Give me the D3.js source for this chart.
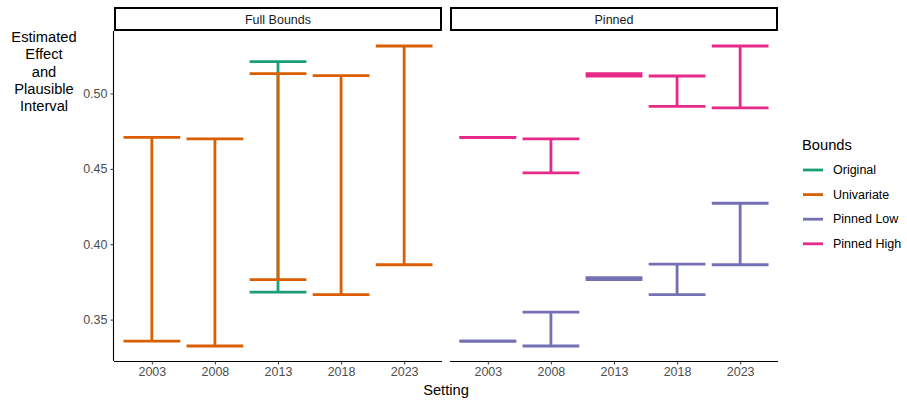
<!DOCTYPE html>
<html><head><meta charset="utf-8">
<script src="https://cdn.jsdelivr.net/npm/d3@7"></script>
<style>body{margin:0;background:#fff;} svg{font-family:"Liberation Sans",Arial,sans-serif;}</style>
</head><body>
<svg id="chart" width="907" height="402"></svg>
<script>
const settings = ["2003","2008","2013","2018","2023"];
const panels = ["Full Bounds","Pinned"];
const boundsLevels = ["Original","Univariate","Pinned Low","Pinned High"];
const boundsColors = ["#1B9E77","#D95F02","#7570B3","#E7298A"];
const yTicks = [0.35,0.40,0.45,0.50];

// Full Bounds panel
const origSettings = ["2013"];
const origLower = [0.3682];
const origUpper = [0.5212];
const uniLower = [0.3358,0.3325,0.3765,0.3666,0.3864];
const uniUpper = [0.4709,0.4699,0.5132,0.5119,0.5315];
// Pinned panel
const pinLowLower = [0.3358,0.3325,0.3765,0.3666,0.3864];
const pinLowUpper = [0.3358,0.3550,0.3778,0.3868,0.4272];
const pinHighLower = [0.4709,0.4474,0.5116,0.4914,0.4904];
const pinHighUpper = [0.4709,0.4699,0.5132,0.5116,0.5315];

(function(){
const rows = [];
origSettings.forEach((s,i)=>rows.push({panel:"Full Bounds",bounds:"Original",setting:s,lo:origLower[i],hi:origUpper[i]}));
settings.forEach((s,i)=>rows.push({panel:"Full Bounds",bounds:"Univariate",setting:s,lo:uniLower[i],hi:uniUpper[i]}));
settings.forEach((s,i)=>rows.push({panel:"Pinned",bounds:"Pinned Low",setting:s,lo:pinLowLower[i],hi:pinLowUpper[i]}));
settings.forEach((s,i)=>rows.push({panel:"Pinned",bounds:"Pinned High",setting:s,lo:pinHighLower[i],hi:pinHighUpper[i]}));

const svg = d3.select("#chart");
const color = d3.scaleOrdinal().domain(boundsLevels).range(boundsColors);

const plotTop = 31, plotBottom = 361;
const panelX = {"Full Bounds":[114,442],"Pinned":[450,778]};
const allVals = rows.flatMap(r=>[r.lo,r.hi]);
const ymin = d3.min(allVals), ymax = d3.max(allVals);
const pad = (ymax-ymin)*0.05;
const y = d3.scaleLinear().domain([ymin-pad, ymax+pad]).range([plotBottom, plotTop]);

const lw = 2.8;
const txtCol = "#4d4d4d";
const small = 12.5, big = 14.7;

panels.forEach((p,pi)=>{
  const [x0,x1] = panelX[p];
  const unit = (x1-x0)/(settings.length - 1 + 1.2);
  const x = d3.scalePoint().domain(settings).range([x0+0.6*unit, x1-0.6*unit]);
  const hw = 0.45*unit;

  // strip
  svg.append("rect").attr("x",x0+1).attr("y",8).attr("width",x1-x0-2).attr("height",plotTop-8-1)
    .attr("fill","#fff").attr("stroke","#000").attr("stroke-width",2);
  svg.append("text").attr("x",(x0+x1)/2).attr("y",19.5).attr("text-anchor","middle")
    .attr("dominant-baseline","central").attr("font-size",small).attr("fill","#1a1a1a").text(p);

  const g = svg.append("g");
  rows.filter(r=>r.panel===p).forEach(r=>{
    const cx = x(r.setting), c = color(r.bounds);
    g.append("line").attr("x1",cx).attr("x2",cx).attr("y1",y(r.lo)).attr("y2",y(r.hi))
      .attr("stroke",c).attr("stroke-width",lw);
    [r.lo,r.hi].forEach(v=>{
      g.append("line").attr("x1",cx-hw).attr("x2",cx+hw).attr("y1",y(v)).attr("y2",y(v))
        .attr("stroke",c).attr("stroke-width",lw);
    });
  });

  // x axis
  const xa = svg.append("g").attr("transform",`translate(0,${plotBottom})`)
    .call(d3.axisBottom(x).tickSize(3.5).tickPadding(3));
  xa.attr("font-size",small).attr("font-family",null);
  xa.select(".domain").attr("d",`M${x0},0.5H${x1}`).attr("stroke","#000").attr("stroke-width",1.1);
  xa.selectAll(".tick line").attr("stroke","#333");
  xa.selectAll(".tick text").attr("fill",txtCol);

  if(pi===0){
    const ya = svg.append("g").attr("transform",`translate(${x0},0)`)
      .call(d3.axisLeft(y).tickValues(yTicks).tickFormat(d3.format(".2f")).tickSize(3.5).tickPadding(3));
    ya.attr("font-size",small).attr("font-family",null);
    ya.select(".domain").attr("d",`M-0.5,${plotTop}V${plotBottom}`).attr("stroke","#000").attr("stroke-width",1.1);
    ya.selectAll(".tick line").attr("stroke","#333");
    ya.selectAll(".tick text").attr("fill",txtCol);
  }
});

// y title
const yt = ["Estimated","Effect","and","Plausible","Interval"];
const ytEl = svg.append("text").attr("text-anchor","middle").attr("font-size",big).attr("fill","#000");
yt.forEach((t,i)=>ytEl.append("tspan").attr("x",44).attr("y",42+i*17.3).text(t));

// x title
svg.append("text").attr("x",446).attr("y",395).attr("text-anchor","middle")
  .attr("font-size",big).attr("fill","#000").text("Setting");

// legend
svg.append("text").attr("x",802).attr("y",150).attr("font-size",big).attr("fill","#000").text("Bounds");
boundsLevels.forEach((b,i)=>{
  const ly = 170 + i*24.6;
  svg.append("line").attr("x1",803).attr("x2",823).attr("y1",ly).attr("y2",ly)
    .attr("stroke",color(b)).attr("stroke-width",lw);
  svg.append("text").attr("x",833).attr("y",ly).attr("dominant-baseline","central")
    .attr("font-size",small).attr("fill","#000").text(b);
});
})();
</script>
</body></html>
